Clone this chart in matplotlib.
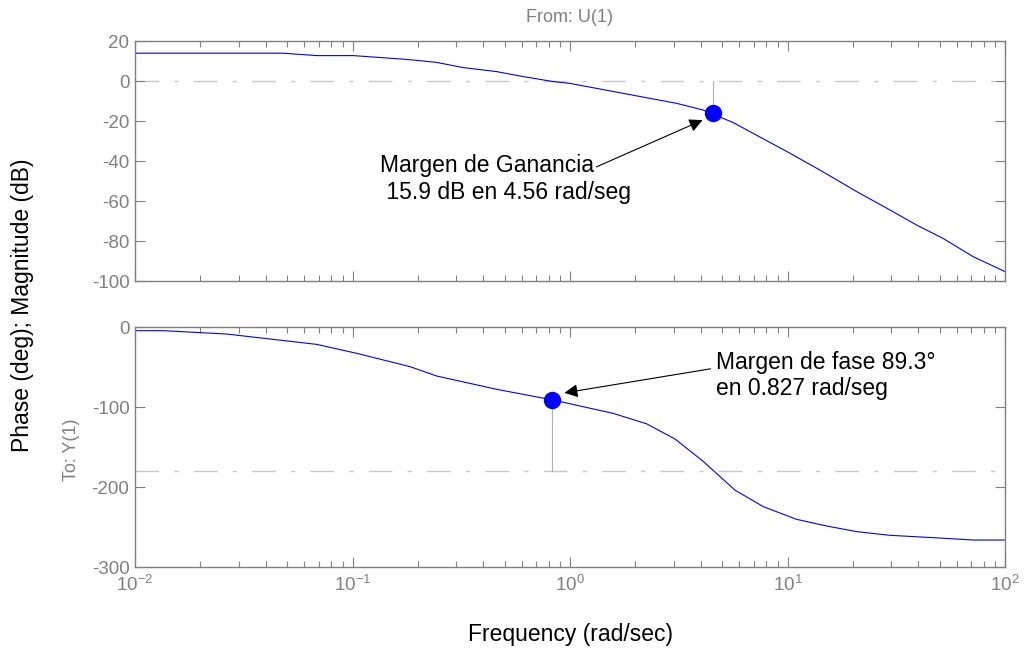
import numpy as np
import matplotlib
matplotlib.use('Agg')
import matplotlib.pyplot as plt
from matplotlib.ticker import LogLocator, NullFormatter

plt.rcParams['font.family'] = ['Liberation Sans', 'DejaVu Sans']
plt.rcParams['mathtext.fontset'] = 'custom'
plt.rcParams['mathtext.rm'] = 'Liberation Sans'
plt.rcParams['mathtext.it'] = 'Liberation Sans'
plt.rcParams['axes.unicode_minus'] = False

# Magnitude curve
freq_mag = [0.01, 0.048, 0.0684, 0.101, 0.177, 0.244, 0.323, 0.46, 0.61, 0.838,
            1.0, 3.10, 4.09, 5.63, 10.3, 14.5, 20.8, 29.6, 39.2, 51.9, 71.3, 100]
mag_db = [13.9, 13.9, 12.7, 12.7, 10.8, 9.3, 6.7, 4.7, 2.2, -0.3,
          -1.2, -11.2, -14.5, -20.8, -36.2, -45.3, -55.3, -64.5, -72.0, -78.7, -87.8, -95.3]

# Phase curve
freq_ph = [0.01, 0.0135, 0.0264, 0.0684, 0.1045, 0.184, 0.244, 0.46, 0.838, 1.58,
           2.25, 3.04, 4.10, 5.74, 7.75, 11.0, 15.1, 20.8, 29.6, 50.2, 71.4, 100]
phase_deg = [-4.6, -4.6, -8.8, -21.7, -32.9, -49.6, -61.3, -77.9, -91.3, -108,
             -121, -140, -168, -204, -224.6, -240.4, -248.7, -255.8, -260.4, -263.8, -266.3, -266.3]

# Margins
gm_freq, gm_db = 4.56, -15.9
pm_freq, pm_phase = 0.827, -90.7

gray = '#808080'
blue = '#0000ff'
dashdot = (0, (17, 11, 3, 11))

fig = plt.figure(figsize=(10.25, 6.6), dpi=100)
ax1 = fig.add_axes([135 / 1025, 1 - 281 / 660, 870 / 1025, 240 / 660])
ax2 = fig.add_axes([135 / 1025, 1 - 567 / 660, 870 / 1025, 240 / 660])

for ax in (ax1, ax2):
    ax.set_xscale('log')
    ax.set_xlim(1e-2, 1e2)
    for sp in ax.spines.values():
        sp.set_color(gray)
        sp.set_linewidth(1.0)
    ax.xaxis.set_major_locator(LogLocator(base=10, numticks=10))
    ax.xaxis.set_minor_locator(LogLocator(base=10, subs=np.arange(2, 10), numticks=50))
    ax.xaxis.set_minor_formatter(NullFormatter())
    ax.tick_params(which='both', direction='in', top=True, right=True,
                   colors=gray, labelcolor=gray, labelsize=13.5, width=0.8)
    ax.tick_params(which='major', length=7)
    ax.tick_params(which='minor', length=4)
    ax.tick_params(axis='y', pad=4)
    ax.tick_params(axis='x', pad=6)

# Magnitude
ax1.plot(freq_mag, mag_db, color=blue, lw=0.8)
ax1.axhline(0, color='#c8c8c8', lw=1.0, linestyle=dashdot, zorder=1)
ax1.plot([gm_freq, gm_freq], [0, gm_db], color='#b0b0b0', lw=0.8, zorder=1)
ax1.plot(gm_freq, gm_db, 'o', color=blue, markersize=11.5, zorder=5)
ax1.set_ylim(-100, 20)
ax1.set_yticks([20, 0, -20, -40, -60, -80, -100])
ax1.tick_params(axis='x', labelbottom=False)

ax1.text(0.1338, -49, 'Margen de Ganancia\n 15.9 dB en 4.56 rad/seg', ha='left', va='center',
         fontsize=16.5, linespacing=1.2)
ax1.annotate('', xy=(4.18, -19), xytext=(1.288, -43.5),
             arrowprops=dict(arrowstyle='-|>', color='k', lw=0.8, mutation_scale=20))

# Phase
ax2.plot(freq_ph, phase_deg, color=blue, lw=0.8)
ax2.axhline(-180, color='#c8c8c8', lw=1.0, linestyle=dashdot, zorder=1)
ax2.plot([pm_freq, pm_freq], [-180, pm_phase], color='#b0b0b0', lw=0.8, zorder=1)
ax2.plot(pm_freq, pm_phase, 'o', color=blue, markersize=11.5, zorder=5)
ax2.set_ylim(-300, 0)
ax2.set_yticks([0, -100, -200, -300])

ax2.text(4.69, -60.6, 'Margen de fase 89.3°\nen 0.827 rad/seg', ha='left', va='center',
         fontsize=16.5, linespacing=1.2)
ax2.annotate('', xy=(0.916, -82.9), xytext=(4.56, -51.7),
             arrowprops=dict(arrowstyle='-|>', color='k', lw=0.8, mutation_scale=20))

fig.text(570 / 1025, 1 - 17 / 660, 'From: U(1)', ha='center', va='center', color=gray, fontsize=13)
fig.text(71 / 1025, 1 - 450 / 660, 'To: Y(1)', ha='center', va='center', color=gray, fontsize=13,
         rotation=90)
fig.text(23 / 1025, 1 - 305 / 660, 'Phase (deg); Magnitude (dB)', ha='center', va='center',
         fontsize=16.5, rotation=90)
fig.text(570 / 1025, 1 - 635 / 660, 'Frequency (rad/sec)', ha='center', va='center', fontsize=16.5)

fig.savefig('out.png', dpi=100, facecolor='white')
